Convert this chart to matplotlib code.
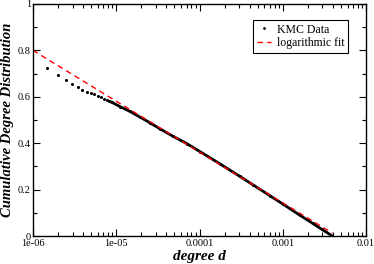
import matplotlib
matplotlib.use('Agg')
import matplotlib.pyplot as plt
import numpy as np
from matplotlib.ticker import FuncFormatter, MultipleLocator, LogLocator, NullFormatter

plt.rcParams['font.family'] = 'Liberation Serif'

# KMC data, sparse low-degree points (d = k / N)
sparse_d = [1.46e-6, 1.98e-6, 2.47e-6, 2.96e-6, 3.47e-6, 3.91e-6, 4.45e-6,
            4.97e-6, 5.44e-6, 5.97e-6, 6.55e-6, 7.11e-6, 7.66e-6]
sparse_p = [0.725, 0.693, 0.674, 0.655, 0.641, 0.631, 0.622,
            0.616, 0.610, 0.603, 0.598, 0.592, 0.588]

# KMC data, dense part
dense_d = [8.2e-6, 8.87e-6, 1.107e-5, 1.46e-5, 1.92e-5, 2.54e-5, 3.35e-5, 4.80e-5,
           7.06e-5, 1.01e-4, 1.76e-4, 3.05e-4, 4.37e-4, 7.0e-4, 1.0e-3,
           1.60e-3, 2.30e-3, 2.94e-3, 3.94e-3]
dense_p = [0.581, 0.576, 0.558, 0.537, 0.513, 0.488, 0.462, 0.430,
           0.398, 0.364, 0.311, 0.257, 0.221, 0.174, 0.138,
           0.090, 0.054, 0.029, 0.0]

# logarithmic fit  P = a - b*log10(d)
fit_a = 0.8 - 0.219 * 6
fit_b = 0.219
fit_d = np.array([1e-6, 3.94e-3])
fit_p = fit_a - fit_b * np.log10(fit_d)

fig = plt.figure(figsize=(3.74, 2.64), dpi=100)
ax = fig.add_axes([33 / 374, 28 / 264, 333 / 374, 232 / 264])

ax.plot(dense_d, dense_p, color='black', lw=2.0, solid_capstyle='butt')
ax.plot(sparse_d + dense_d, sparse_p + dense_p, 'o', color='black', ms=2.2,
        mew=0, label='KMC Data')
ax.plot(fit_d, fit_p, color='red', lw=1.0, dashes=(4, 3), label='logarithmic fit')

ax.set_xscale('log')
ax.set_xlim(1e-6, 1e-2)
ax.set_ylim(0, 1)

ax.xaxis.set_major_locator(LogLocator(base=10, numticks=10))
ax.xaxis.set_minor_locator(LogLocator(base=10, subs=np.arange(2, 10), numticks=10))
ax.xaxis.set_minor_formatter(NullFormatter())
ax.xaxis.set_major_formatter(FuncFormatter(lambda v, _: '%g' % v))
ax.yaxis.set_major_locator(MultipleLocator(0.2))
ax.yaxis.set_minor_locator(MultipleLocator(0.1))
ax.yaxis.set_major_formatter(FuncFormatter(lambda v, _: '%g' % round(v, 2)))

ax.tick_params(which='both', direction='in', top=True, right=True,
               labelsize=7.5, colors='black', width=0.8, pad=2.5)
ax.tick_params(axis='y', pad=1.5)
ax.tick_params(which='major', length=5)
ax.tick_params(which='minor', length=3)
for s in ax.spines.values():
    s.set_linewidth(1.0)

ax.set_xlabel('degree d', fontsize=11, fontweight='bold', style='italic', labelpad=1)
ax.set_ylabel('Cumulative Degree Distribution', fontsize=10.5, fontweight='bold',
              style='italic', labelpad=3)

leg = ax.legend(loc='upper right', bbox_to_anchor=(0.946, 0.931), fontsize=8.5,
                frameon=True, fancybox=False, framealpha=1, edgecolor='black',
                handlelength=1.2, handletextpad=0.5, borderpad=0.3,
                labelspacing=0.15, markerscale=0.9, borderaxespad=0)
leg.get_frame().set_linewidth(0.8)

fig.savefig('out.png', dpi=100)
